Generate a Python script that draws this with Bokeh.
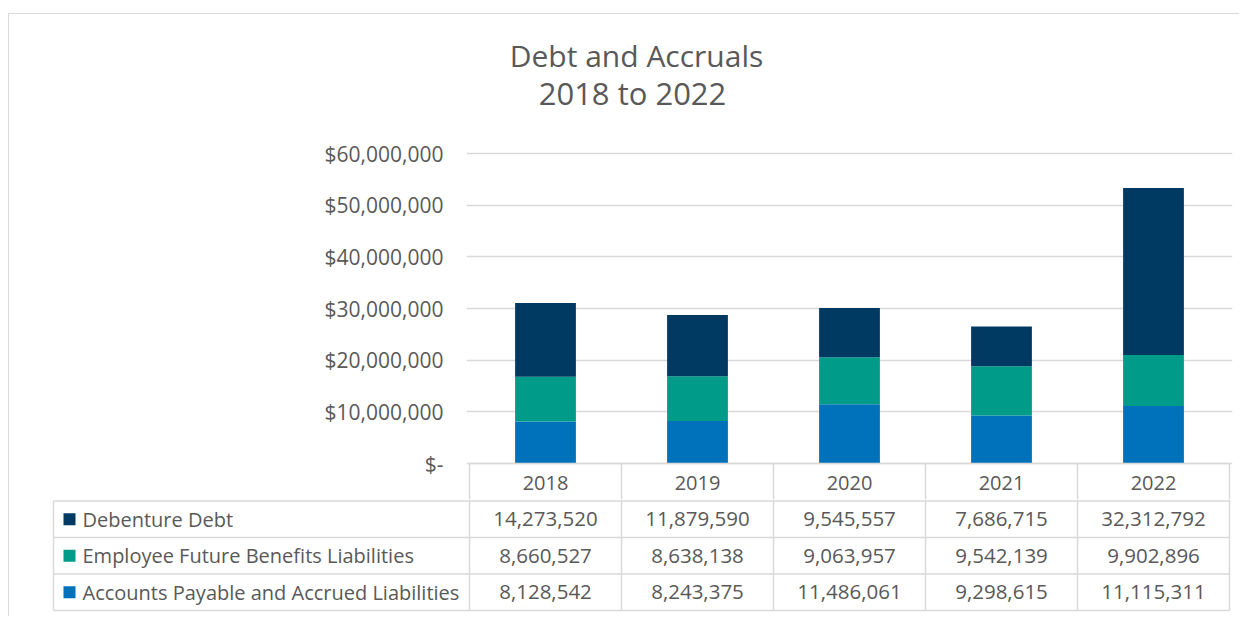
from bokeh.plotting import figure
from bokeh.layouts import column
from bokeh.models import (Range1d, FixedTicker, CustomJSTickFormatter, ColumnDataSource)
from bokeh.embed import file_html
from bokeh.resources import INLINE
from bokeh.core.properties import value

# ---------------- data ----------------
years = ["2018", "2019", "2020", "2021", "2022"]
series_names = ["Debenture Debt",
                "Employee Future Benefits Liabilities",
                "Accounts Payable and Accrued Liabilities"]
debenture_debt = [14273520, 11879590, 9545557, 7686715, 32312792]
employee_future_benefits = [8660527, 8638138, 9063957, 9542139, 9902896]
accounts_payable = [8128542, 8243375, 11486061, 9298615, 11115311]
y_ticks = [0, 10000000, 20000000, 30000000, 40000000, 50000000, 60000000]
title_lines = ["Debt and Accruals", "2018 to 2022"]

# ---------------- style ----------------
C_NAVY, C_TEAL, C_BLUE = "#003A63", "#009B89", "#0072BC"
TXT = "#595959"
GRID = "#d9d9d9"
FONT = "Open Sans"

# ---------------- layout constants (page pixels) ----------------
OX, OY = 9, 14        # content origin (inside the outer border)
FIG_W = 1230
UNIT = 152            # px per year column
COL0 = 469            # page x of first year column
PAD = 3
LABEL_PX = 416        # width of the table's label column
ZERO_Y = 463          # page y of value 0
PLOT_PX = 310         # px from 0 to the top tick
A_TOP = 30            # page y of chart frame top
A_BOT = 499           # page y of chart frame / canvas bottom
ROW_TOP = 500.5       # page y of first data-row top line
ROW_PX = 36.5
TITLE_BASE = [55, 92]
TITLE_CX = [636, 632]
TITLE_SIZES = ["30px", "31px"]

YMAX = y_ticks[-1]
n = len(years)
xs = [i + 0.5 for i in range(n)]
LW = LABEL_PX / UNIT
PADU = PAD / UNIT
def ypx(py):  # page y -> chart data value
    return YMAX * (ZERO_Y - py) / PLOT_PX

# ---------------- chart figure ----------------
A_H = A_BOT - OY
a_left = COL0 - PAD - OX
a_fw = n * UNIT + 2 * PAD
pA = figure(width=FIG_W, height=A_H, output_backend="svg", toolbar_location=None,
            x_range=Range1d(-PADU, n + PADU),
            y_range=Range1d(ypx(A_BOT), ypx(A_TOP)),
            x_axis_location=None,
            min_border_left=a_left, min_border_right=FIG_W - a_left - a_fw,
            min_border_top=A_TOP - OY, min_border_bottom=0)
pA.frame_align = False
pA.outline_line_color = None
pA.xgrid.visible = False
pA.ygrid.ticker = FixedTicker(ticks=y_ticks)
pA.ygrid.grid_line_color = GRID
pA.ygrid.grid_line_width = 1.5
ax = pA.yaxis[0]
ax.ticker = FixedTicker(ticks=y_ticks)
ax.formatter = CustomJSTickFormatter(
    code="return tick == 0 ? '$-' : '$' + Math.round(tick).toLocaleString('en-US');")
ax.axis_line_color = None
ax.major_tick_line_color = None
ax.minor_tick_line_color = None
ax.major_tick_out = 0
ax.major_tick_in = 0
ax.major_label_standoff = 23
ax.major_label_text_font = FONT
ax.major_label_text_font_size = "21px"
ax.major_label_text_color = TXT

src = ColumnDataSource(dict(x=xs, ap=accounts_payable, efb=employee_future_benefits,
                            dd=debenture_debt))
pA.vbar_stack(["ap", "efb", "dd"], x="x", width=0.4, source=src,
              color=[C_BLUE, C_TEAL, C_NAVY], line_color=None)

# title (two centred lines)
for t, cxp, b, fs in zip(title_lines, TITLE_CX, TITLE_BASE, TITLE_SIZES):
    pA.text(x=[(cxp - COL0) / UNIT], y=[ypx(b)], text=[t],
            text_font=value(FONT), text_font_size=value(fs),
            text_color=TXT, text_align="center", text_baseline="alphabetic")

# header row (years) of the data table
pA.segment(x0=list(range(n + 1)), x1=list(range(n + 1)),
           y0=[0] * (n + 1), y1=[ypx(A_BOT)] * (n + 1),
           line_color=GRID, line_width=1.5)
pA.segment(x0=[0], x1=[n], y0=[0], y1=[0], line_color=GRID, line_width=1.5)
pA.text(x=xs, y=[ypx(482)] * n, text=years,
        text_font=value(FONT), text_font_size=value("20px"), text_color=TXT,
        text_align="center", text_baseline="middle")

# ---------------- table figure (data rows) ----------------
B_TOP = A_BOT
B_FRAME_BOT = 612
B_H = 616 - B_TOP
b_left = COL0 - LABEL_PX - PAD - OX
b_fw = LABEL_PX + n * UNIT + 2 * PAD
pB = figure(width=FIG_W, height=B_H, output_backend="svg", toolbar_location=None,
            x_range=Range1d(-LW - PADU, n + PADU),
            y_range=Range1d((B_FRAME_BOT - ROW_TOP) / ROW_PX, (B_TOP - ROW_TOP) / ROW_PX),
            x_axis_location=None, y_axis_location=None,
            min_border_left=b_left, min_border_right=FIG_W - b_left - b_fw,
            min_border_top=0, min_border_bottom=B_TOP + B_H - B_FRAME_BOT)
pB.frame_align = False
pB.outline_line_color = None
pB.grid.visible = False

nrows = len(series_names)
btop = (B_TOP - ROW_TOP) / ROW_PX
pB.segment(x0=[-LW] * (nrows + 1), x1=[n] * (nrows + 1),
           y0=list(range(nrows + 1)), y1=list(range(nrows + 1)),
           line_color=GRID, line_width=1.5)
pB.segment(x0=[-LW], x1=[-LW], y0=[0], y1=[nrows], line_color=GRID, line_width=1.5)
vx = list(range(n + 1))
pB.segment(x0=vx, x1=vx, y0=[btop] * len(vx), y1=[nrows] * len(vx),
           line_color=GRID, line_width=1.5)

row_vals = [debenture_debt, employee_future_benefits, accounts_payable]
row_cols = [C_NAVY, C_TEAL, C_BLUE]
ry = [r + 0.5 for r in range(nrows)]
pB.scatter(x=[-LW + 16 / UNIT] * nrows, y=ry, marker="square", size=12,
           color=row_cols, line_color=None)
pB.text(x=[-LW + 29 / UNIT] * nrows, y=ry, text=series_names,
        text_font=value(FONT), text_font_size=value("20px"), text_color=TXT,
        text_align="left", text_baseline="middle")
cx, cy, ct = [], [], []
for r, vals in enumerate(row_vals):
    for i, v in enumerate(vals):
        cx.append(xs[i]); cy.append(r + 0.5); ct.append(f"{v:,}")
pB.text(x=cx, y=cy, text=ct, text_font=value(FONT), text_font_size=value("20.5px"),
        text_color=TXT, text_align="center", text_baseline="middle")

layout = column(pA, pB, spacing=0, margin=(OY - 1, 0, 0, OX - 1),
                styles={"border-top": "1px solid #d9d9d9",
                        "border-left": "1px solid #d9d9d9"})
open("out.html", "w").write(file_html(layout, INLINE))
